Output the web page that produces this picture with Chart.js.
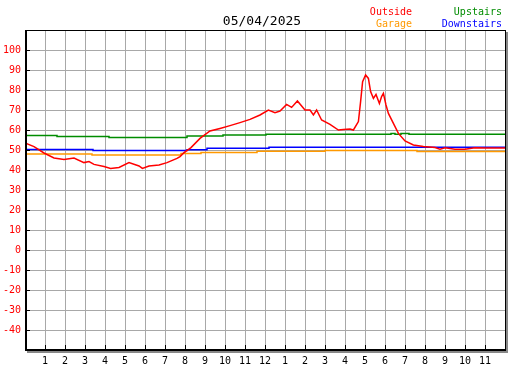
<!DOCTYPE html>
<html>
<head>
<meta charset="utf-8">
<script src="https://cdn.jsdelivr.net/npm/chart.js@4/dist/chart.umd.min.js"></script>
<style>
html,body{margin:0;padding:0;background:#fff;}
#wrap{width:527px;height:370px;}
</style>
</head>
<body>
<div id="wrap"><canvas id="c" width="527" height="370"></canvas></div>
<script>
const chartTitle = "05/04/2025";
const seriesNames = ["Outside", "Garage", "Upstairs", "Downstairs"];
const seriesColors = ["#ff0000", "#ff9900", "#008c00", "#0000ff"];

// hours since midnight
const outsideHours = [0, 0.45, 0.95, 1.45, 1.95, 2.45, 2.95, 3.2, 3.45, 3.95, 4.28, 4.7, 5.2, 5.7, 5.87, 6.2, 6.7, 7.1, 7.6, 7.75, 7.95, 8.3, 8.75, 9.25, 9.75, 10.25, 10.75, 11.25, 11.75, 12.17, 12.5, 12.75, 13.08, 13.33, 13.62, 14.0, 14.25, 14.42, 14.58, 14.83, 15.25, 15.67, 15.92, 16.25, 16.42, 16.67, 16.78, 16.88, 17.03, 17.17, 17.28, 17.42, 17.55, 17.72, 17.83, 17.92, 18.05, 18.17, 18.42, 18.67, 19.0, 19.42, 19.92, 20.5, 20.75, 21.0, 21.5, 22.0, 22.5, 23.0, 24];
const outsideTemps = [53.5, 51.7, 48.5, 46, 45.3, 46, 43.7, 44.2, 42.8, 41.7, 40.8, 41.3, 43.7, 42, 40.8, 42, 42.5, 43.7, 45.8, 46.7, 48.7, 51.2, 55.8, 59.5, 60.8, 62.2, 63.7, 65.3, 67.5, 70, 68.7, 69.5, 72.8, 71.3, 74.5, 70, 70, 67.5, 70, 65, 62.8, 60, 60.3, 60.5, 60, 64.2, 74.2, 84.2, 87.5, 85.8, 79.2, 75.8, 77.8, 73.3, 76.7, 78.3, 72.5, 68.3, 63.3, 58.3, 54.5, 52.5, 51.7, 51.2, 50.4, 51.1, 50.4, 50.4, 51.1, 51, 51];

const garageHours = [0, 3.35, 7.8, 8.8, 11.6, 15.0, 19.6, 24];
const garageTemps = [48, 47.5, 48.2, 48.8, 49.4, 49.8, 49.3, 49.3];

const upstairsHours = [0, 1.6, 4.2, 8.1, 9.9, 12.05, 18.3, 18.5, 18.8, 19.2, 24];
const upstairsTemps = [57.2, 56.7, 56.3, 57, 57.5, 57.9, 58.3, 57.9, 58.3, 57.9, 57.9];

const downstairsHours = [0, 3.4, 8.1, 9.1, 12.2, 24];
const downstairsTemps = [50.2, 49.8, 50.1, 50.9, 51.4, 51.4];

const yMin = -50, yMax = 110, yStep = 10;
const xMin = 0, xMax = 24;

function pts(h, v){ return h.map((x,i)=>({x:x, y:v[i]})); }
function hourLabel(v){ if (v<=0 || v>=24) return ''; const m = v % 12; return String(m===0 ? 12 : m); }

const FONT = "'DejaVu Sans Mono', monospace";

const framePlugin = {
  id: 'frame',
  afterDatasetsDraw(chart){
    const {ctx, chartArea:a, scales} = chart;
    ctx.save();
    // ticks inside
    ctx.strokeStyle = '#000'; ctx.lineWidth = 1;
    ctx.beginPath();
    scales.y.ticks.forEach(t=>{
      if (t.value<=yMin || t.value>=yMax) return;
      const y = Math.round(scales.y.getPixelForValue(t.value)) + 0.5;
      ctx.moveTo(a.left, y); ctx.lineTo(a.left+5, y);
    });
    scales.x.ticks.forEach(t=>{
      if (t.value<=xMin || t.value>=xMax) return;
      const x = Math.round(scales.x.getPixelForValue(t.value)) + 0.5;
      ctx.moveTo(x, a.bottom); ctx.lineTo(x, a.bottom-5);
    });
    ctx.stroke();
    // shadow
    ctx.fillStyle = '#888';
    ctx.fillRect(a.right+1, a.top+2, 2, a.bottom-a.top+1);
    ctx.fillRect(a.left+2, a.bottom+1, a.right-a.left+1, 2);
    // frame
    ctx.fillStyle = '#000';
    ctx.fillRect(a.left, a.top, a.right-a.left+1, 1);
    ctx.fillRect(a.left, a.top, 2, a.bottom-a.top+1);
    ctx.fillRect(a.left, a.bottom-1, a.right-a.left+1, 2);
    ctx.fillRect(a.right, a.top, 1, a.bottom-a.top+1);
    ctx.restore();
  },
  afterDraw(chart){
    const ctx = chart.ctx;
    ctx.save();
    ctx.textBaseline = 'alphabetic';
    ctx.font = '13px ' + FONT;
    ctx.fillStyle = '#000';
    ctx.textAlign = 'center';
    ctx.fillText(chartTitle, 262, 25);
    ctx.font = '10px ' + FONT;
    ctx.textAlign = 'right';
    const ds = chart.data.datasets;
    const pos = [[412, 15], [412, 27], [502, 15], [502, 27]];
    ds.forEach((d,i)=>{
      ctx.fillStyle = d.borderColor;
      ctx.fillText(d.label, pos[i][0], pos[i][1]);
    });
    ctx.restore();
  }
};

new Chart(document.getElementById('c'), {
  type: 'line',
  data: {
    datasets: [
      {label: seriesNames[0], data: pts(outsideHours, outsideTemps), borderColor: seriesColors[0], borderWidth: 1.5, pointRadius: 0, tension: 0, fill: false},
      {label: seriesNames[1], data: pts(garageHours, garageTemps), borderColor: seriesColors[1], borderWidth: 1.5, pointRadius: 0, stepped: 'before', fill: false},
      {label: seriesNames[2], data: pts(upstairsHours, upstairsTemps), borderColor: seriesColors[2], borderWidth: 1.5, pointRadius: 0, stepped: 'before', fill: false},
      {label: seriesNames[3], data: pts(downstairsHours, downstairsTemps), borderColor: seriesColors[3], borderWidth: 1.5, pointRadius: 0, stepped: 'before', fill: false}
    ]
  },
  options: {
    responsive: false,
    animation: false,
    events: [],
    layout: {padding: {top: 30, right: 22, left: 0, bottom: 0}},
    plugins: {legend: {display: false}, title: {display: false}, tooltip: {enabled: false}},
    scales: {
      x: {
        type: 'linear', min: xMin, max: xMax,
        afterFit(s){ s.height = 20; },
        ticks: {stepSize: 1, autoSkip: false, maxRotation: 0, padding: 5, color: '#000', font: {family: FONT, size: 10}, callback: v => hourLabel(v)},
        grid: {color: '#a8a8a8', lineWidth: 1, drawTicks: false, tickLength: 0},
        border: {display: false}
      },
      y: {
        min: yMin, max: yMax,
        afterFit(s){ s.width = 25; },
        ticks: {stepSize: yStep, autoSkip: false, padding: 4, color: '#ff0000', font: {family: FONT, size: 10}, callback: v => (v<=yMin || v>=yMax) ? '' : String(v)},
        grid: {color: '#a8a8a8', lineWidth: 1, drawTicks: false, tickLength: 0},
        border: {display: false}
      }
    }
  },
  plugins: [framePlugin]
});
</script>
</body>
</html>
